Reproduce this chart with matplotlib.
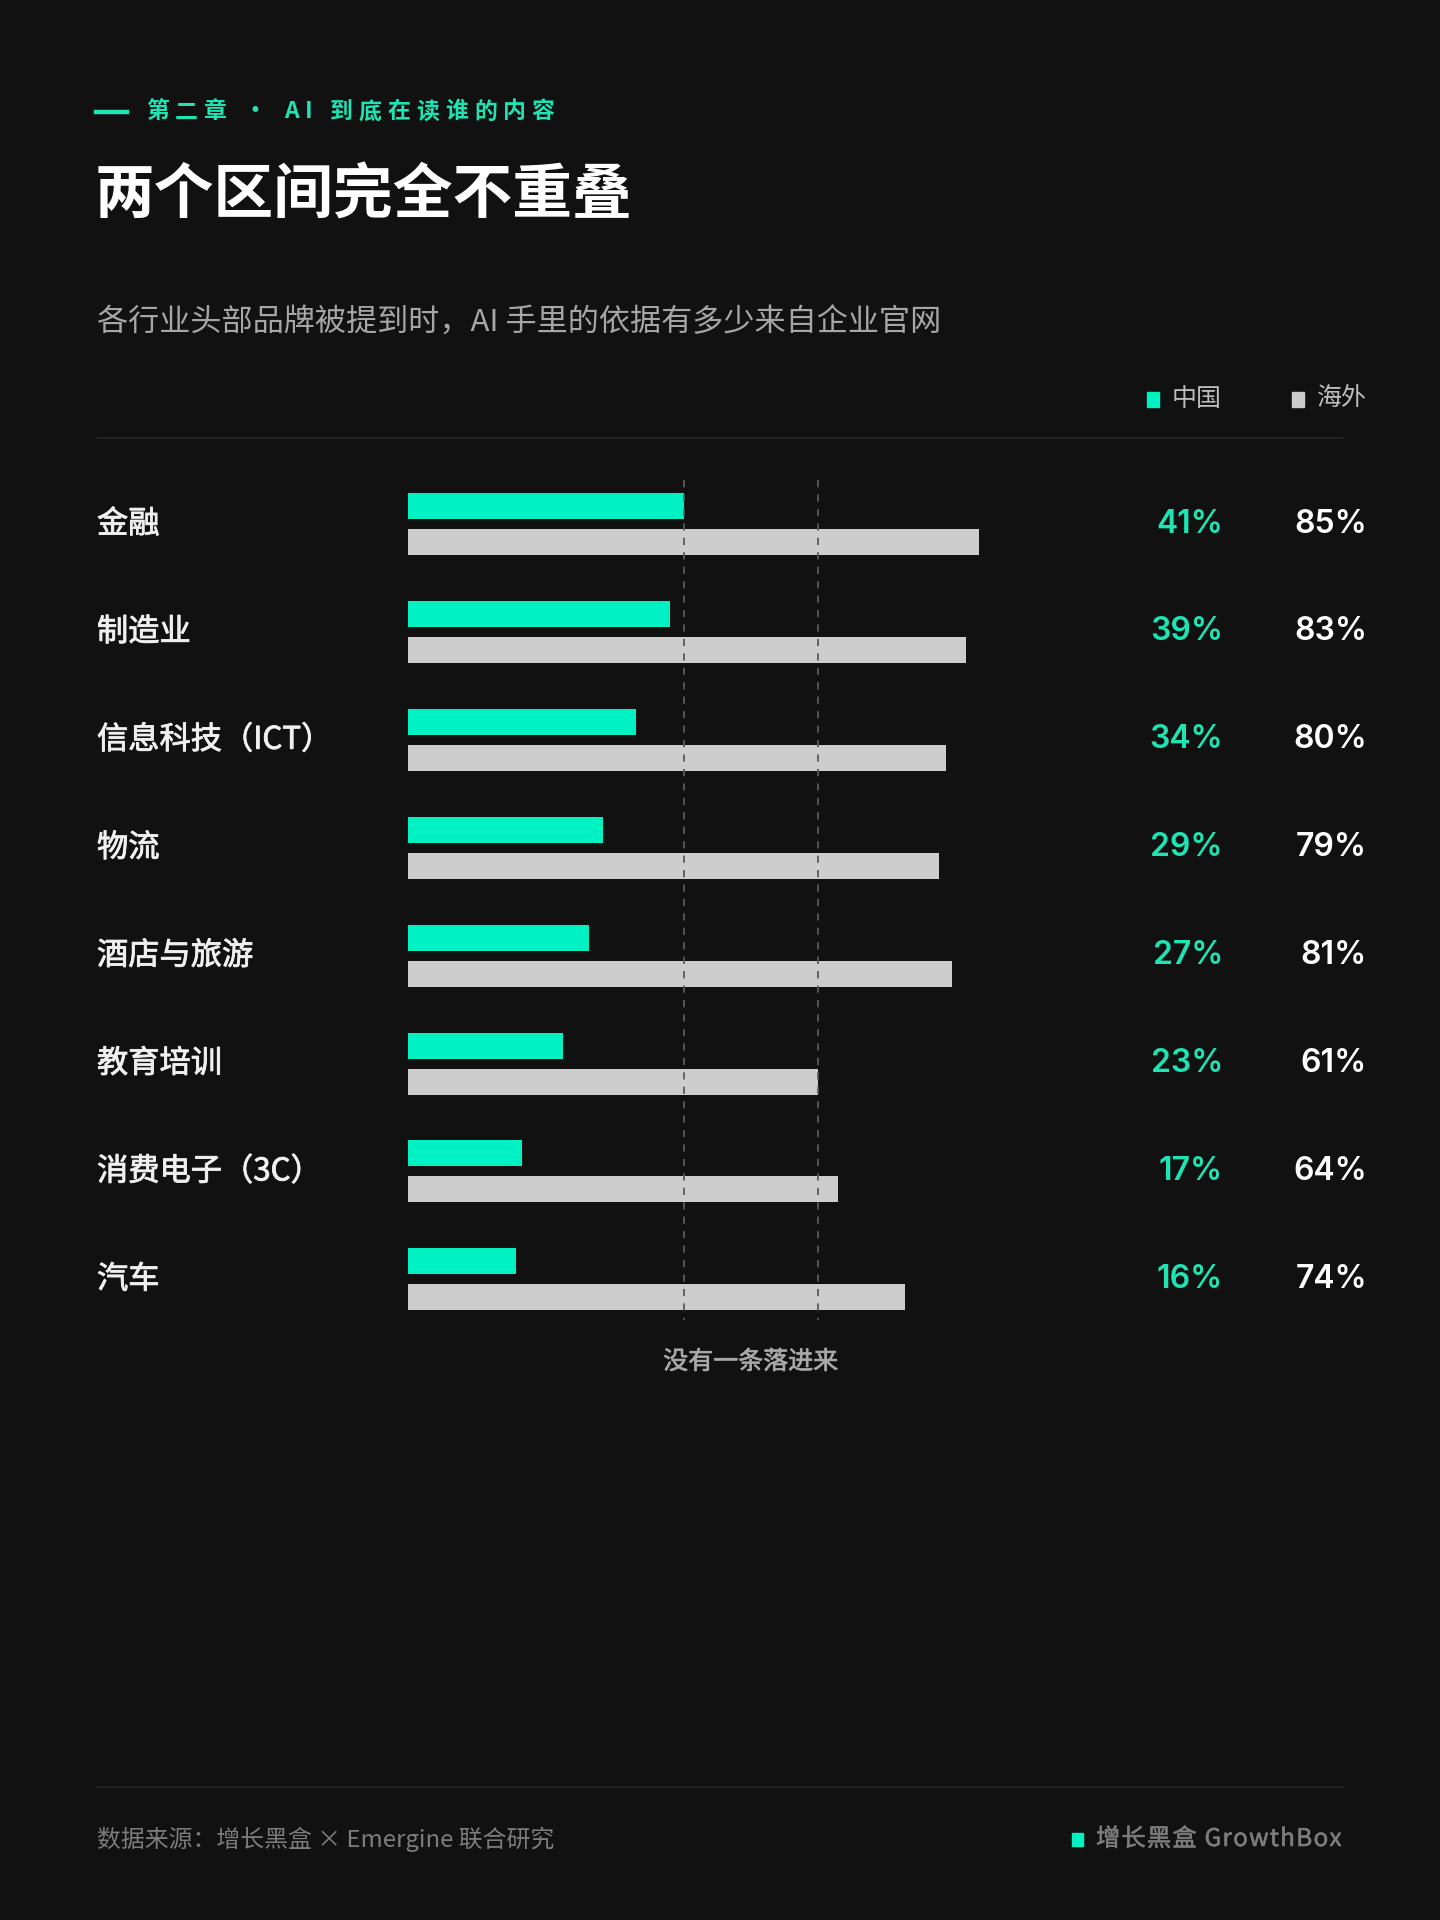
import matplotlib
matplotlib.use("Agg")
import matplotlib.pyplot as plt
import matplotlib.patheffects as pe
from matplotlib.patches import Rectangle
from matplotlib.lines import Line2D
from matplotlib.transforms import blended_transform_factory

plt.rcParams['font.family'] = ['Noto Sans CJK SC', 'DejaVu Sans']

# data
categories = ['金融', '制造业', '信息科技（ICT）', '物流', '酒店与旅游', '教育培训', '消费电子（3C）', '汽车']
china = [41, 39, 34, 29, 27, 23, 17, 16]
overseas = [85, 83, 80, 79, 81, 61, 64, 74]
series_names = ['中国', '海外']

BG = '#111111'
GREEN = '#00f2c3'
GREEN_TXT = '#1fe3b2'
GRAY = '#cdcdcd'
NUM_FONT = ['Inter', 'Noto Sans CJK SC']
W, H = 1440, 1920

fig = plt.figure(figsize=(W / 100, H / 100), dpi=100, facecolor=BG)


def fx(px):
    return px / W


def fy(py):
    return 1 - py / H


def medium(color, lw=0.5):
    # fake a medium weight by stroking the regular glyphs slightly
    return [pe.withStroke(linewidth=lw, foreground=color)]


# plot area: 0..100% spans x 408..1080 px, rows centered at 524 + 107.9*i
row_h = 107.9
top = 524 - 0.5 * row_h
bottom = 524 + 7.5 * row_h
ax = fig.add_axes([fx(408), fy(bottom), (1080 - 408) / W, (bottom - top) / H])
ax.set_facecolor(BG)
ax.set_xlim(0, 100)
ax.set_ylim(len(categories) - 0.5, -0.5)
ax.axis('off')

ys = list(range(len(categories)))
off = 18 / row_h
bh = 26 / row_h
ax.barh([y - off for y in ys], china, height=bh, color=GREEN, zorder=2)
ax.barh([y + off for y in ys], overseas, height=bh, color=GRAY, zorder=2)

# dashed guide lines at China max / overseas min
lo, hi = max(china), min(overseas)
ax.vlines([lo, hi], (480 - 524) / row_h, (1320 - 524) / row_h, colors='#5a5a5a',
          linestyles=(0, (4, 4)), linewidth=1.3, zorder=3, clip_on=False)
ax.text((lo + hi) / 2, (1362 - 524) / row_h, '没有一条落进来', color='#a8a8a8',
        fontsize=18, ha='center', va='center', path_effects=medium('#a8a8a8'))

tr = blended_transform_factory(fig.transFigure, ax.transData)
for y, cat, c, o in zip(ys, categories, china, overseas):
    ax.text(fx(97), y, cat, transform=tr, color='#f0f0f0', fontsize=22.5,
            ha='left', va='center', path_effects=medium('#f0f0f0', 0.6))
    ax.text(fx(1223), y, f'{c}%', transform=tr, color=GREEN_TXT, fontsize=23,
            family=NUM_FONT, fontweight='semibold', ha='right', va='center')
    ax.text(fx(1367), y, f'{o}%', transform=tr, color='#ffffff', fontsize=23,
            family=NUM_FONT, fontweight='semibold', ha='right', va='center')

# header
renderer = fig.canvas.get_renderer()


def tracked(x_px, y_px, s, size, color, track, weight='bold', effects=None):
    x = x_px
    for ch in s:
        t = fig.text(fx(x), fy(y_px), ch, color=color, fontsize=size,
                     fontweight=weight, ha='left', va='center', path_effects=effects)
        x += t.get_window_extent(renderer=renderer).width + track


fig.add_artist(Line2D([fx(96), fx(127)], [fy(112), fy(112)], color=GREEN_TXT, linewidth=3.2))
tracked(146, 112, '第二章 · AI 到底在读谁的内容', 16.5, GREEN_TXT, 6)

fig.text(fx(95), fy(197), '两个区间完全不重叠', color='#ffffff', fontsize=43,
         fontweight='bold', ha='left', va='center')
fig.text(fx(97), fy(323), '各行业头部品牌被提到时，AI 手里的依据有多少来自企业官网',
         color='#a6a6a6', fontsize=22.4, ha='left', va='center')

# legend
for sx, tx, col, name in [(1147, 1172, GREEN, series_names[0]), (1292, 1317, GRAY, series_names[1])]:
    fig.add_artist(Rectangle((fx(sx), fy(407)), 12 / W, 15 / H, color=col, transform=fig.transFigure))
    fig.text(fx(tx), fy(399), name, color='#bdbdbd', fontsize=18, ha='left', va='center')

# separators
fig.add_artist(Line2D([fx(97), fx(1343)], [fy(438), fy(438)], color='#262626', linewidth=1.2))
fig.add_artist(Line2D([fx(97), fx(1343)], [fy(1787), fy(1787)], color='#262626', linewidth=1.2))

# footer
fig.text(fx(97), fy(1839), '数据来源：增长黑盒 × Emergine 联合研究', color='#7c7c7c',
         fontsize=17.2, ha='left', va='center')
tracked(1096, 1839, '增长黑盒 GrowthBox', 17.5, '#7c7c7c', 1.2, weight='normal',
        effects=medium('#7c7c7c', 0.4))
fig.add_artist(Rectangle((fx(1072), fy(1846)), 11 / W, 13 / H, color=GREEN, transform=fig.transFigure))

fig.savefig('out.png', dpi=100, facecolor=BG)
